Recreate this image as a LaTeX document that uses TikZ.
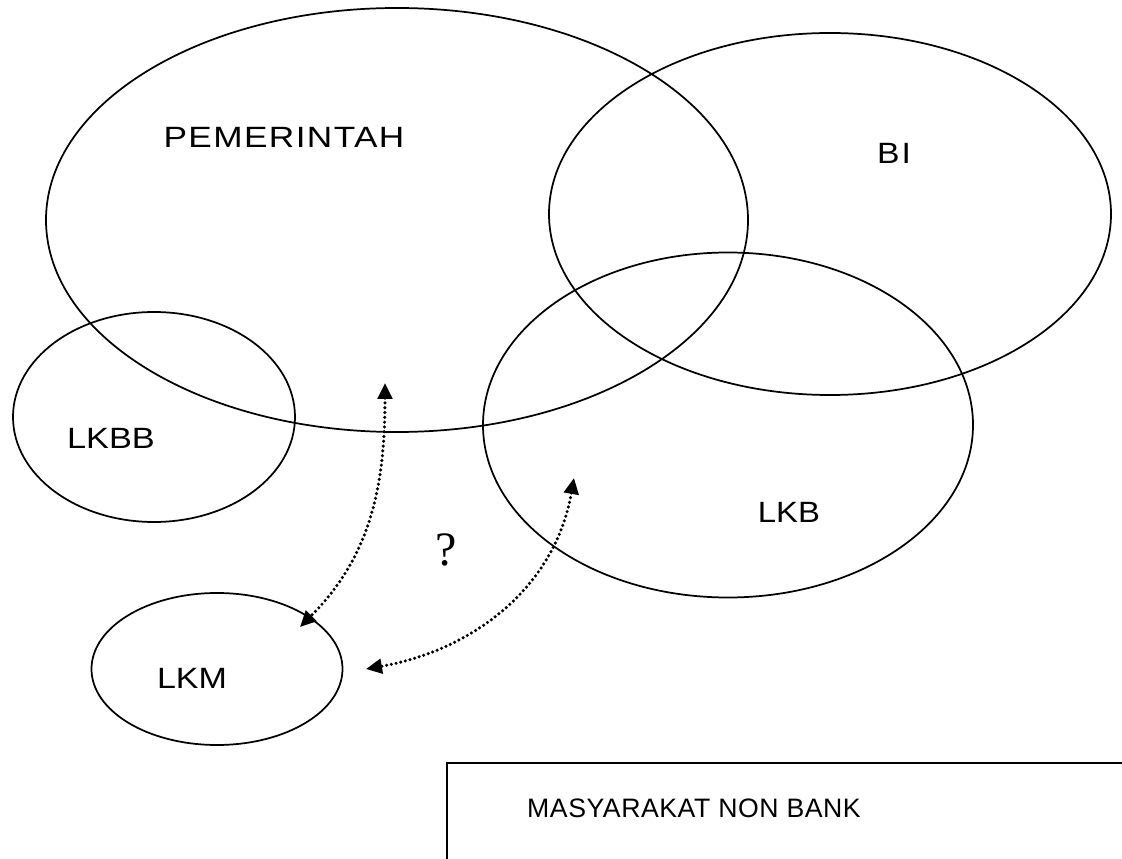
\documentclass[tikz,border=0pt]{standalone}
\usepackage{graphicx}
\usepackage{fontspec}
\setmainfont{Liberation Sans}
\newfontfamily\qfont{Liberation Serif}
\usetikzlibrary{shapes.geometric,arrows.meta}
\begin{document}
\begin{tikzpicture}[x=0.75pt,y=-0.75pt,
  oval/.style={draw,ellipse,line width=1.3pt,inner sep=0pt},
  lbl/.style={inner sep=0pt,font=\fontsize{22}{26}\selectfont},
  link/.style={line width=2.6pt,dash pattern=on 0pt off 3.6pt,line cap=round,
    {Triangle[length=12pt,width=11pt]}-{Triangle[length=12pt,width=11pt]}}]
\useasboundingbox (0,0) rectangle (1122,859);
% ellipses
\node[oval,minimum width=526.5pt,minimum height=318pt] (pem) at (397,220) {};
\node[oval,minimum width=421.5pt,minimum height=271.5pt] (bi) at (830,214) {};
\node[oval,minimum width=367.5pt,minimum height=258.75pt] (lkb) at (728,425) {};
\node[oval,minimum width=211.5pt,minimum height=157.5pt] (lkbb) at (154,417) {};
\node[oval,minimum width=188.25pt,minimum height=114pt] (lkm) at (217,669) {};
% labels
\node[lbl] (tpem) at (284,137) {\scalebox{1.2}[1]{\addfontfeatures{LetterSpace=4}PEMERINTAH}};
\node[lbl] (tbi) at (894,153) {\scalebox{1.15}[1]{\addfontfeatures{LetterSpace=6}BI}};
\node[lbl] (tlkb) at (789,512) {\scalebox{1.12}[1]{LKB}};
\node[lbl] (tlkbb) at (111,438) {\scalebox{1.17}[1]{LKBB}};
\node[lbl] (tlkm) at (192,678) {\scalebox{1.16}[1]{LKM}};
\node[inner sep=0pt,font=\qfont\fontsize{36}{40}\selectfont] (q) at (446,550) {?};
% box
\coordinate (r1) at (1122,763);
\coordinate (r2) at (447,763);
\coordinate (r3) at (447,859);
\draw[line width=1.3pt] (r1) -- (r2) -- (r3);
\node[inner sep=0pt,font=\fontsize{20}{24}\selectfont] (tmas) at (694,808) {\addfontfeatures{LetterSpace=2}MASYARAKAT NON BANK};
% arrows
\coordinate (a1) at (385,383);
\coordinate (a2) at (300,627);
\coordinate (b1) at (574,478);
\coordinate (b2) at (366,669);
\draw[link] (a1) to[out=-90,in=45] (a2);
\draw[link] (b1) to[out=-100,in=10] (b2);
\end{tikzpicture}
\end{document}
